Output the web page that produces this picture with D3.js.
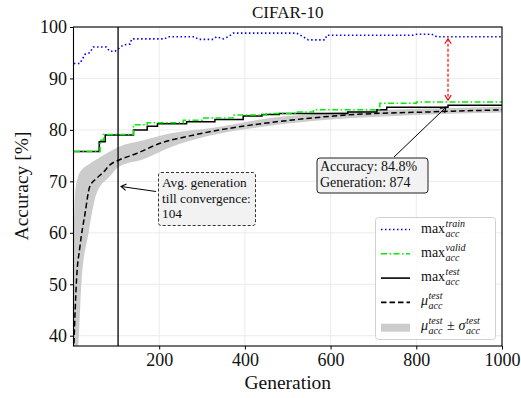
<html lang="en">
  <head>
    <meta charset="UTF-8" />
    <title>CIFAR-10 accuracy</title>
    <script src="https://d3js.org/d3.v7.min.js"></script>
  </head>
  <style>
    body {
      margin: 0px;
      overflow: hidden;
      background: white;
    }
    text {
      font-family: "Liberation Serif", "DejaVu Serif", serif;
      fill: #111;
    }
  </style>
  <body>
    <svg width="521" height="398"></svg>
  </body>
  <footer>
    <script>
      // values
      var trainMax = [
        [1, 92.9], [15, 92.9], [27, 94.7], [38, 95.0], [46, 96.1], [77, 96.1],
        [84, 95.3], [97, 95.3], [107, 95.9], [116, 96.5], [132, 96.7], [136, 97.7],
        [213, 97.7], [221, 98.1], [283, 98.1], [291, 97.6], [326, 97.6], [334, 98.1],
        [350, 97.7], [361, 98.1], [373, 98.8], [521, 98.8], [532, 98.3], [548, 97.5],
        [587, 97.5], [591, 98.4], [793, 98.4], [801, 98.6], [836, 98.6], [848, 98.1],
        [1000, 98.1]
      ];
      var validMax = [
        [1, 75.8], [62, 78.0], [70, 79.1], [140, 81.0], [172, 81.4], [256, 81.9],
        [300, 82.3], [372, 82.9], [450, 83.2], [520, 83.5], [560, 83.9], [715, 85.2],
        [800, 85.4], [1000, 85.4]
      ];
      var testMax = [
        [1, 75.8], [60, 77.7], [74, 79.0], [140, 80.0], [172, 80.7], [196, 81.2],
        [264, 81.6], [330, 82.0], [396, 82.7], [440, 83.0], [480, 83.2], [640, 83.5],
        [708, 83.9], [731, 84.4], [874, 84.8], [1000, 84.8]
      ];
      var testMean = [
        [1, 38.5], [7, 50.8], [15, 57.3], [27, 63.8], [38, 69.0], [54, 70.6],
        [70, 71.8], [85, 73.2], [105, 74.1], [147, 75.4], [202, 77.4], [264, 78.7],
        [342, 80.0], [420, 81.0], [497, 81.8], [638, 82.9], [832, 83.5], [1000, 83.9]
      ];
      // generation, mean - std, mean + std
      var testBand = [
        [1, 30.0, 60.0], [4, 33.0, 68.0], [11, 38.0, 71.0], [19, 50.8, 72.2],
        [35, 59.9, 73.3], [54, 67.7, 74.3], [85, 71.0, 75.8], [105, 72.8, 76.7],
        [163, 74.3, 78.0], [225, 76.6, 79.3], [318, 78.9, 80.3], [459, 80.8, 82.3],
        [600, 82.0, 83.4], [800, 82.9, 84.1], [1000, 83.4, 84.5]
      ];
      var convergenceGen = 104;
      var best = { gen: 874, acc: 84.8, train: 98.1, valid: 85.4 };
      var xTicks = [200, 400, 600, 800, 1000];
      var yTicks = [40, 50, 60, 70, 80, 90, 100];

      var svg = d3.select("svg");
      var margin = { left: 73.5, top: 27, right: 19, bottom: 52 };
      var width = 521;
      var height = 398;

      var xScale = d3
        .scaleLinear()
        .domain([0, 1000])
        .range([margin.left, width - margin.right]);
      var yScale = d3
        .scaleLinear()
        .domain([38, 100])
        .range([height - margin.bottom, margin.top]);

      svg
        .append("clipPath")
        .attr("id", "plot")
        .append("rect")
        .attr("x", margin.left)
        .attr("y", margin.top)
        .attr("width", width - margin.right - margin.left)
        .attr("height", height - margin.bottom - margin.top);

      // grid
      var grid = svg.append("g").attr("stroke", "#ebebeb").attr("stroke-width", 1);
      grid
        .selectAll(".gx")
        .data(xTicks)
        .enter()
        .append("line")
        .attr("x1", (d) => xScale(d))
        .attr("x2", (d) => xScale(d))
        .attr("y1", margin.top)
        .attr("y2", height - margin.bottom);
      grid
        .selectAll(".gy")
        .data(yTicks)
        .enter()
        .append("line")
        .attr("x1", margin.left)
        .attr("x2", width - margin.right)
        .attr("y1", (d) => yScale(d))
        .attr("y2", (d) => yScale(d));

      var plot = svg.append("g").attr("clip-path", "url(#plot)");

      plot
        .append("path")
        .datum(testBand)
        .attr("fill", "#cccccc")
        .attr(
          "d",
          d3
            .area()
            .x((d) => xScale(d[0]))
            .y0((d) => yScale(d[1]))
            .y1((d) => yScale(d[2]))
            .curve(d3.curveMonotoneX)
        );

      var line = d3
        .line()
        .x((d) => xScale(d[0]))
        .y((d) => yScale(d[1]));

      plot
        .append("path")
        .datum(testMean)
        .attr("fill", "none")
        .attr("stroke", "black")
        .attr("stroke-width", 1.5)
        .attr("stroke-dasharray", "5.5,3")
        .attr("d", line.curve(d3.curveMonotoneX));

      var step = d3
        .line()
        .x((d) => xScale(d[0]))
        .y((d) => yScale(d[1]))
        .curve(d3.curveStepAfter);

      plot
        .append("path")
        .datum(testMax)
        .attr("fill", "none")
        .attr("stroke", "black")
        .attr("stroke-width", 1.5)
        .attr("d", step);

      plot
        .append("path")
        .datum(validMax)
        .attr("fill", "none")
        .attr("stroke", "#00ee00")
        .attr("stroke-width", 1.5)
        .attr("stroke-dasharray", "6,2.5,1.5,2.5")
        .attr("d", step);

      plot
        .append("path")
        .datum(trainMax)
        .attr("fill", "none")
        .attr("stroke", "#0000ff")
        .attr("stroke-width", 1.6)
        .attr("stroke-dasharray", "1.5,2.5")
        .attr("d", d3.line().x((d) => xScale(d[0])).y((d) => yScale(d[1])));

      // convergence line
      svg
        .append("line")
        .attr("x1", xScale(convergenceGen))
        .attr("x2", xScale(convergenceGen))
        .attr("y1", margin.top)
        .attr("y2", height - margin.bottom)
        .attr("stroke", "black")
        .attr("stroke-width", 1.3);

      // spines
      svg
        .append("rect")
        .attr("x", margin.left)
        .attr("y", margin.top)
        .attr("width", width - margin.right - margin.left)
        .attr("height", height - margin.bottom - margin.top)
        .attr("fill", "none")
        .attr("stroke", "black")
        .attr("stroke-width", 1.1);

      // axes
      var xAxis = svg
        .append("g")
        .attr("transform", `translate(0, ${height - margin.bottom})`)
        .call(
          d3.axisBottom(xScale).tickValues(xTicks).tickFormat(d3.format("d")).tickSize(3.5).tickPadding(4)
        );
      var yAxis = svg
        .append("g")
        .attr("transform", `translate(${margin.left}, 0)`)
        .call(d3.axisLeft(yScale).tickValues(yTicks).tickSize(3.5).tickPadding(3));
      [xAxis, yAxis].forEach(function (a) {
        a.select(".domain").remove();
        a.selectAll("text")
          .style("font-family", '"Liberation Serif", serif')
          .style("font-size", "18px")
          .attr("fill", "#111");
      });

      svg
        .append("text")
        .attr("x", (margin.left + width - margin.right) / 2)
        .attr("y", 18)
        .attr("text-anchor", "middle")
        .style("font-size", "17px")
        .text("CIFAR-10");
      svg
        .append("text")
        .attr("x", (margin.left + width - margin.right) / 2)
        .attr("y", 389)
        .attr("text-anchor", "middle")
        .style("font-size", "19.5px")
        .text("Generation");
      svg
        .append("text")
        .attr("transform", "translate(28, 186) rotate(-90)")
        .attr("text-anchor", "middle")
        .style("font-size", "19.5px")
        .text("Accuracy [%]");

      // arrowheads
      var defs = svg.append("defs");
      function head(id, color) {
        defs
          .append("marker")
          .attr("id", id)
          .attr("viewBox", "-6 -4 7 8")
          .attr("refX", 0)
          .attr("refY", 0)
          .attr("markerWidth", 7)
          .attr("markerHeight", 8)
          .attr("markerUnits", "userSpaceOnUse")
          .attr("orient", "auto-start-reverse")
          .append("path")
          .attr("d", "M-5,-3.2 L0,0 L-5,3.2")
          .attr("fill", "none")
          .attr("stroke", color)
          .attr("stroke-width", 1.1);
      }
      head("hk", "black");
      head("hr", "red");

      // gap between train and valid at the best generation
      svg
        .append("line")
        .attr("x1", xScale(best.gen))
        .attr("x2", xScale(best.gen))
        .attr("y1", yScale(best.train) + 2)
        .attr("y2", yScale(best.valid) - 2)
        .attr("stroke", "red")
        .attr("stroke-width", 1.2)
        .attr("stroke-dasharray", "3,2")
        .attr("marker-start", "url(#hr)")
        .attr("marker-end", "url(#hr)");

      // convergence annotation
      svg
        .append("line")
        .attr("x1", 156)
        .attr("y1", 191.5)
        .attr("x2", xScale(convergenceGen) + 3)
        .attr("y2", 186.5)
        .attr("stroke", "black")
        .attr("stroke-width", 1)
        .attr("marker-end", "url(#hk)");
      svg
        .append("rect")
        .attr("x", 158.5)
        .attr("y", 172.5)
        .attr("width", 97)
        .attr("height", 53)
        .attr("rx", 2.5)
        .attr("fill", "#f2f2f2")
        .attr("stroke", "#333")
        .attr("stroke-width", 1)
        .attr("stroke-dasharray", "3,2");
      ["Avg. generation", "till convergence:", String(convergenceGen)].forEach(function (t, i) {
        svg
          .append("text")
          .attr("x", 162)
          .attr("y", 187 + i * 15.5)
          .style("font-size", "13.3px")
          .text(t);
      });

      // best accuracy annotation
      svg
        .append("line")
        .attr("x1", 394)
        .attr("y1", 157)
        .attr("x2", xScale(best.gen) - 2)
        .attr("y2", yScale(best.acc) + 2)
        .attr("stroke", "black")
        .attr("stroke-width", 1)
        .attr("marker-end", "url(#hk)");
      svg
        .append("rect")
        .attr("x", 317)
        .attr("y", 158)
        .attr("width", 111)
        .attr("height", 35)
        .attr("rx", 3)
        .attr("fill", "#f2f2f2")
        .attr("stroke", "#222")
        .attr("stroke-width", 1);
      ["Accuracy: " + best.acc + "%", "Generation: " + best.gen].forEach(function (t, i) {
        svg
          .append("text")
          .attr("x", 320)
          .attr("y", 171 + i * 15.5)
          .style("font-size", "14px")
          .text(t);
      });

      // legend
      var legend = svg.append("g");
      legend
        .append("rect")
        .attr("x", 375.5)
        .attr("y", 217.5)
        .attr("width", 120)
        .attr("height", 122)
        .attr("rx", 3)
        .attr("fill", "white")
        .attr("fill-opacity", 0.85)
        .attr("stroke", "#d0d0d0")
        .attr("stroke-width", 1);

      var entries = [
        { kind: "line", color: "#0000ff", dash: "1.5,2.5", parts: [["max"], ["train", "acc"]] },
        { kind: "line", color: "#00ee00", dash: "6,2.5,1.5,2.5", parts: [["max"], ["valid", "acc"]] },
        { kind: "line", color: "black", dash: null, parts: [["max"], ["test", "acc"]] },
        { kind: "line", color: "black", dash: "5.5,3", parts: [["μ", true], ["test", "acc"]] },
        { kind: "band", color: "#cccccc", parts: [["μ", true], ["test", "acc"], [" ± "], ["σ", true], ["test", "acc"]] }
      ];
      entries.forEach(function (e, i) {
        var cy = 229.5 + i * 24.3;
        if (e.kind === "line") {
          legend
            .append("line")
            .attr("x1", 381)
            .attr("x2", 410)
            .attr("y1", cy)
            .attr("y2", cy)
            .attr("stroke", e.color)
            .attr("stroke-width", 1.6)
            .attr("stroke-dasharray", e.dash);
        } else {
          legend
            .append("rect")
            .attr("x", 381)
            .attr("y", cy - 3)
            .attr("width", 29)
            .attr("height", 8)
            .attr("fill", e.color);
        }
        var x = 421;
        e.parts.forEach(function (p) {
          if (p.length === 2 && typeof p[1] === "string") {
            var sup = legend
              .append("text")
              .attr("x", x)
              .attr("y", cy - 3)
              .style("font-size", "10px")
              .style("font-style", "italic")
              .text(p[0]);
            var sub = legend
              .append("text")
              .attr("x", x)
              .attr("y", cy + 7)
              .style("font-size", "10px")
              .style("font-style", "italic")
              .text(p[1]);
            x += Math.max(sup.node().getComputedTextLength(), sub.node().getComputedTextLength()) + 1;
          } else {
            var t = legend
              .append("text")
              .attr("x", x)
              .attr("y", cy + 3)
              .style("font-size", "14px")
              .style("font-style", p[1] ? "italic" : "normal")
              .attr("xml:space", "preserve")
              .text(p[0]);
            x += t.node().getComputedTextLength() + 0.5;
          }
        });
      });
    </script>
  </footer>
</html>
